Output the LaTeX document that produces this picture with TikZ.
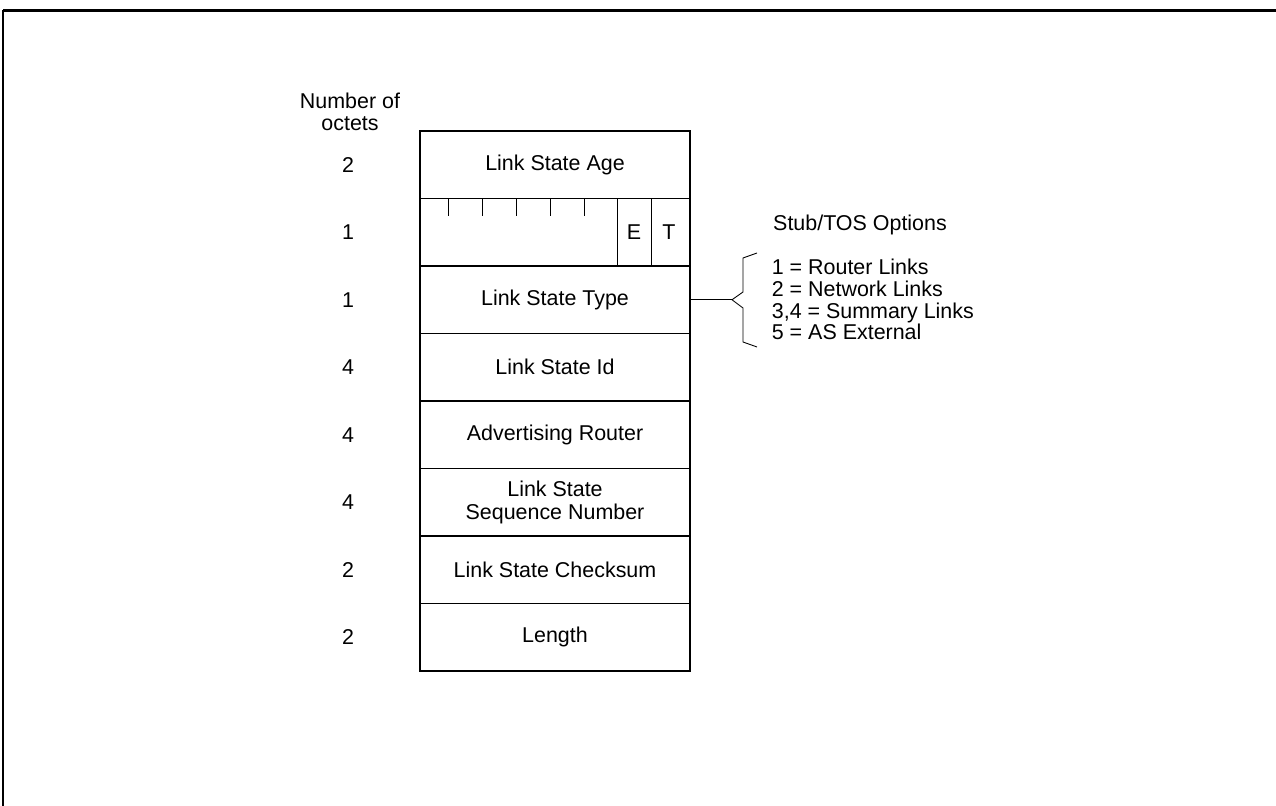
\documentclass[tikz,border=0pt]{standalone}
\usepackage{fontspec}
\setmainfont{Liberation Sans}
\usepackage{tikz}
\usetikzlibrary{positioning}
\tikzset{
  base/.style={font=\fontsize{12.2}{13}\selectfont, align=center, inner sep=2pt, text=black},
  field/.style={base, rectangle, draw, line width=1.1pt, minimum width=5.4cm, minimum height=1.35cm, outer sep=0pt},
  num/.style={base},
  flagtick/.style={line width=0.5pt},
  thinline/.style={line width=0.5pt},
  optlist/.style={base, align=left, anchor=west, font=\fontsize{12.2}{12.35}\selectfont},
}

\begin{document}
\begin{tikzpicture}
  \useasboundingbox (0,0) rectangle (25.52,-16.12);
  % page frame
  \draw[line width=1.5pt] (25.52,-0.21) -- (0.06,-0.21);
  \draw[line width=0.6pt] (0.06,-0.21) -- (0.06,-16.12);
  % header fields
  \node[field] (age) at (11.1,-3.295) {Link State Age};
  \node[field,below=0pt of age] (flags) {};
  \node[field,below=0pt of flags] (type) {Link State Type};
  \node[field,below=0pt of type] (lsid) {Link State Id};
  \node[field,below=0pt of lsid] (advrtr) {Advertising Router};
  \node[field,below=0pt of advrtr] (seqno) {Link State\\Sequence Number};
  \node[field,below=0pt of seqno] (cksum) {Link State Checksum};
  \node[field,below=0pt of cksum] (len) {Length};
  % option bits
  \foreach \x in {8.96,9.64,10.32,11.0,11.68}{\draw[flagtick] (\x,0 |- flags.north) -- ++(0,-0.36);}
  \draw[flagtick] (12.34,0 |- flags.north) -- (12.34,0 |- flags.south);
  \draw[flagtick] (13.02,0 |- flags.north) -- (13.02,0 |- flags.south);
  \node[base] (ebit) at (12.68,0 |- flags) {E};
  \node[base] (tbit) at (13.38,0 |- flags) {T};
  % octet counts
  \node[base] (octhead) at (7.0,-2.23) {Number of\\[-0.5pt]octets};
  \foreach \f/\n in {age/2,flags/1,type/1,lsid/4,advrtr/4,seqno/4,cksum/2,len/2}{
    \node[num] (n-\f) at (6.96,0 |- \f) {\n};
  }
  % type values
  \node[base] (stubtos) at (17.2,-4.5) {Stub/TOS Options};
  \coordinate (brtip) at (14.64,0 |- type);
  \draw[thinline] (type.east) -- (brtip);
  \draw[thinline] (15.14,-5.06) -- (14.86,-5.16) -- (14.86,-5.84) -- (brtip) -- (14.86,-6.16) -- (14.86,-6.84) -- (15.14,-6.94);
  \node[optlist] (types) at (15.36,0 |- type) {1 = Router Links\\2 = Network Links\\3,4 = Summary Links\\5 = AS External};
\end{tikzpicture}
\end{document}
